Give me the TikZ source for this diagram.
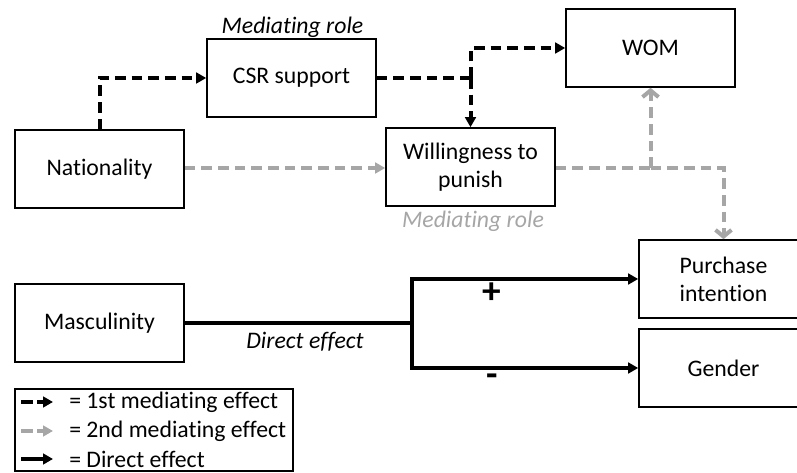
\documentclass[tikz,border=0pt]{standalone}
\usepackage{fontspec}
\setmainfont{Carlito}[Ligatures=NoCommon]
\usetikzlibrary{arrows.meta}

\definecolor{medgray}{HTML}{A6A6A6}

\tikzset{
 box/.style={draw, line width=1.2pt, minimum width=126.75pt, minimum height=58.5pt, inner sep=0pt, align=center},
 firstmed/.style={line width=3pt, dash pattern=on 8pt off 4.5pt},
 secondmed/.style={line width=3pt, dash pattern=on 8pt off 4.5pt, draw=medgray},
 direct/.style={line width=3pt},
 tri/.style={-{Triangle[length=7.5pt,width=8pt]}},
 gtri/.style={-{Triangle[length=7.5pt,width=8pt,fill=medgray]}},
 barb/.style={-{Straight Barb[length=5pt,width=12pt]}},
 sign/.style={font=\fontsize{28}{30}\selectfont\bfseries, inner sep=0pt},
}

\begin{document}
\begin{tikzpicture}[x=0.75pt, y=-0.75pt, font=\fontsize{17.8}{21}\selectfont]
 \useasboundingbox (0,0) rectangle (797,473);
 \clip (0,0) rectangle (797,473);

 \node[box] (nat) at (99.5,169) {Nationality}; % 国籍
 \node[box] (csr) at (291.5,78) {CSR support};
 \node[box] (wil) at (470.5,167) {Willingness to\\punish};
 \node[box] (wom) at (650.5,48) {WOM};
 \node[box] (pur) at (723.5,279) {Purchase\\intention};
 \node[box] (gen) at (723.5,368) {Gender};
 \node[box] (mas) at (99.5,323) {Masculinity};

 \coordinate (j1) at (470.5,78);  % 分岐点 (黒)
 \coordinate (j2) at (650.5,168); % 分岐点 (灰)
 \coordinate (j3) at (412,323);   % 分岐点 (直接効果)

 % 第1媒介効果
 \draw [firstmed, tri] (nat.north) |- (csr.west);
 \draw [firstmed] (csr.east) -- (j1);
 \draw [firstmed, tri] (j1) |- (wom.west);
 \draw [firstmed, tri] (j1) -- (wil.north);

 % 第2媒介効果
 \draw [secondmed, gtri] (nat.east |- 0,168) -- (wil.west |- 0,168);
 \draw [secondmed] (wil.east |- 0,168) -- (j2);
 \draw [secondmed, barb, medgray] (j2) -- (wom.south);
 \draw [secondmed, barb, medgray] (j2) -| (pur.north);

 % 直接効果
 \draw [direct] (mas.east) -- (j3);
 \draw [direct, tri] (j3) |- (pur.west);
 \draw [direct, tri] (j3) |- (gen.west);

 \node (medtop) at (292.5,27) {\itshape Mediating role};
 \node[text=medgray] (medbot) at (473,221) {\itshape Mediating role};
 \node (dirlab) at (305,342) {\itshape Direct effect};
 \node[sign] (plus) at (492,293) {+};
 \node[sign] (minus) at (492,380) {-};

 % 凡例
 \node[box, minimum width=208.5pt, minimum height=61.5pt] (leg) at (154,430) {};
 \coordinate (l1a) at (21,402) coordinate (l1b) at (53,402);
 \coordinate (l2a) at (21,431) coordinate (l2b) at (53,431);
 \coordinate (l3a) at (21,459) coordinate (l3b) at (53,459);
 \draw [line width=3pt, dash pattern=on 9pt off 3pt, tri] (l1a) -- (l1b);
 \draw [line width=3pt, dash pattern=on 9pt off 3pt, draw=medgray, gtri] (l2a) -- (l2b);
 \draw [direct, tri] (l3a) -- (l3b);
 \node[anchor=west, inner sep=0pt] (t1) at (69,402) {= 1st mediating effect};
 \node[anchor=west, inner sep=0pt] (t2) at (69,431) {= 2nd mediating effect};
 \node[anchor=west, inner sep=0pt] (t3) at (69,459) {= Direct effect};
\end{tikzpicture}
\end{document}
